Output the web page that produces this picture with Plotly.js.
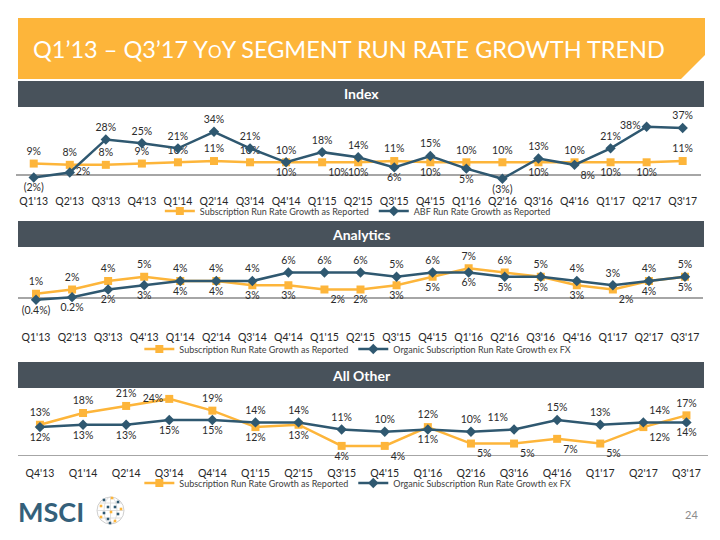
<!DOCTYPE html>
<html><head><meta charset="utf-8">
<script src="https://cdn.plot.ly/plotly-3.0.1.min.js"></script>
<style>html,body{margin:0;padding:0;background:#fff}#chart{width:720px;height:540px}</style>
</head><body><div id="chart"></div>
<script>
// ---------- DATA ----------
const quartersLong = ["Q1'13","Q2'13","Q3'13","Q4'13","Q1'14","Q2'14","Q3'14","Q4'14","Q1'15","Q2'15","Q3'15","Q4'15","Q1'16","Q2'16","Q3'16","Q4'16","Q1'17","Q2'17","Q3'17"];
const quartersShort = ["Q4'13","Q1'14","Q2'14","Q3'14","Q4'14","Q1'15","Q2'15","Q3'15","Q4'15","Q1'16","Q2'16","Q3'16","Q4'16","Q1'17","Q2'17","Q3'17"];

// Index
const indexSubscription = [9,8,8,9,10,11,10,10,10,10,11,10,10,10,10,10,10,10,11];
const indexABF = [-2,2,28,25,21,34,21,10,18,14,6,15,5,-3,13,8,21,38,37];
// Analytics
const analyticsSubscription = [1,2,4,5,4,4,3,3,2,2,3,5,7,6,5,3,2,4,5];
const analyticsOrganic = [-0.4,0.2,2,3,4,4,4,6,6,6,5,6,6,5,5,4,3,4,5];
// All Other
const otherSubscription = [13,18,21,24,19,12,13,4,4,12,5,5,7,5,12,17];
const otherOrganic = [12,13,13,15,15,14,14,11,10,11,10,11,15,13,14,14];

const seriesNames = {
  sub: "Subscription Run Rate Growth as Reported",
  abf: "ABF Run Rate Growth as Reported",
  org: "Organic Subscription Run Rate Growth ex FX"
};

// label placement (style only)
const T='top center', B='bottom center', R='middle right', L='middle left', BR='bottom right', TR='top right', TL='top left';
const idxSubPos = [T,T,T,T,T,T,T,T,BR,B,T,B,T,T,B,T,B,B,T];
const idxAbfPos = [B,R,T,T,T,T,T,B,T,T,B,T,B,B,T,BR,T,L,T];
const anaSubPos = [T,T,T,T,T,T,B,B,BR,B,B,B,T,T,T,B,BR,B,T];
const anaOrgPos = [B,B,B,B,B,B,T,T,T,T,T,T,B,B,B,T,T,T,B];
const aoSubPos = [T,T,T,L,T,B,B,B,BR,T,BR,BR,BR,BR,BR,T];
const aoOrgPos = [B,B,B,B,B,T,T,T,T,B,T,TL,T,T,TR,B];

// ---------- STYLE ----------
const W=720, H=540;
const ORANGE='#FDB53A', BLUE='#2F5870', BAR='#48525B';
const FONT='Lato, "Open Sans", sans-serif';
const px = x => x/W, py = y => 1 - y/H;
const fmt = v => v < 0 ? '(' + Math.abs(v) + '%)' : v + '%';

function series(x, y, pos, name, color, symbol, size, xa, ya, leg) {
  return {
    type:'scatter', mode:'lines+markers+text', x, y, name,
    text: y.map(fmt), textposition: pos, cliponaxis:false,
    textfont:{family:FONT, size:10.5, color:'#2b2b2b'},
    line:{color, width:2.5},
    marker:{color, symbol, size},
    xaxis:xa, yaxis:ya, legend:leg, hoverinfo:'skip'
  };
}

const traces = [
  series(quartersLong, indexSubscription, idxSubPos, seriesNames.sub, ORANGE, 'square', 8, 'x', 'y', 'legend'),
  series(quartersLong, indexABF, idxAbfPos, seriesNames.abf, BLUE, 'diamond', 8, 'x', 'y', 'legend'),
  series(quartersLong, analyticsSubscription, anaSubPos, seriesNames.sub, ORANGE, 'square', 8, 'x2', 'y2', 'legend2'),
  series(quartersLong, analyticsOrganic, anaOrgPos, seriesNames.org, BLUE, 'diamond', 8, 'x2', 'y2', 'legend2'),
  series(quartersShort, otherSubscription, aoSubPos, seriesNames.sub, ORANGE, 'square', 8, 'x3', 'y3', 'legend3'),
  series(quartersShort, otherOrganic, aoOrgPos, seriesNames.org, BLUE, 'diamond', 8, 'x3', 'y3', 'legend3')
];

function xAxis(cats, left, right, anchor) {
  return {domain:[px(left), px(right)], anchor, type:'category', categoryorder:'array', categoryarray:cats,
    range:[-0.5, cats.length-0.5], showgrid:false, zeroline:false, showline:false, ticks:'',
    tickfont:{family:FONT, size:10.5, color:'#262626'}, fixedrange:true};
}
function yAxis(top, bottom, zeroPx, pxPerUnit, anchor) {
  return {domain:[py(bottom), py(top)], anchor,
    range:[-(bottom-zeroPx)/pxPerUnit, (zeroPx-top)/pxPerUnit],
    showgrid:false, zeroline:true, zerolinecolor:'#A6A6A6', zerolinewidth:1.2,
    showticklabels:false, showline:false, ticks:'', fixedrange:true};
}
function legendAt(yPx) {
  return {orientation:'h', x:0.497, xanchor:'center', y:py(yPx), yanchor:'middle',
    font:{family:FONT, size:9, color:'#404040'}, bgcolor:'rgba(0,0,0,0)', itemwidth:30};
}

const P = (x,y) => px(x) + ',' + py(y);
const shapes = [
  {type:'path', xref:'paper', yref:'paper', path:'M'+P(18,18)+' L'+P(705,18)+' L'+P(705,55)+' L'+P(681,79)+' L'+P(18,79)+' Z',
   fillcolor:ORANGE, line:{width:0}},
  {type:'rect', xref:'paper', yref:'paper', x0:px(18), x1:px(704), y0:py(107), y1:py(81), fillcolor:BAR, line:{width:0}},
  {type:'rect', xref:'paper', yref:'paper', x0:px(18), x1:px(704), y0:py(247), y1:py(221), fillcolor:BAR, line:{width:0}},
  {type:'rect', xref:'paper', yref:'paper', x0:px(18), x1:px(704), y0:py(388), y1:py(362), fillcolor:BAR, line:{width:0}},
  // logo globe
  {type:'circle', xref:'paper', yref:'paper', x0:px(97), x1:px(124), y0:py(524), y1:py(497), line:{color:'#cfcfcf', width:1}},
  {type:'circle', xref:'paper', yref:'paper', x0:px(104), x1:px(117), y0:py(524), y1:py(497), line:{color:'#d8d8d8', width:0.8}},
  {type:'line', xref:'paper', yref:'paper', x0:px(97), x1:px(124), y0:py(510.5), y1:py(510.5), line:{color:'#d8d8d8', width:0.8}},
  {type:'line', xref:'paper', yref:'paper', x0:px(110.5), x1:px(110.5), y0:py(497), y1:py(524), line:{color:'#d8d8d8', width:0.8}},
  {type:'line', xref:'paper', yref:'paper', x0:px(99), x1:px(122), y0:py(503), y1:py(503), line:{color:'#d8d8d8', width:0.8}},
  {type:'line', xref:'paper', yref:'paper', x0:px(99), x1:px(122), y0:py(518), y1:py(518), line:{color:'#d8d8d8', width:0.8}}
];
const dots = [[104,500,BLUE],[112,498,ORANGE],[118,502,BLUE],[101,506,ORANGE],[108,507,BLUE],[115,507,BLUE],[121,509,ORANGE],[104,513,BLUE],[111,512,ORANGE],[118,514,BLUE],[101,517,ORANGE],[108,519,BLUE],[115,521,ORANGE],[110,523,BLUE]];
dots.forEach(d => shapes.push({type:'rect', xref:'paper', yref:'paper', x0:px(d[0]-1.3), x1:px(d[0]+1.3), y0:py(d[1]+1.3), y1:py(d[1]-1.3), fillcolor:d[2], line:{width:0}}));

const ann = (x, y, text, font, xanchor='center') => ({xref:'paper', yref:'paper', x:px(x), y:py(y), xanchor, yanchor:'middle', showarrow:false, text, font});
const annotations = [
  ann(31, 49, 'Q1’13 – Q3’17 Y<span style="font-size:17px">O</span>Y SEGMENT RUN RATE GROWTH TREND',
      {family:FONT, size:23.5, color:'#ffffff'}, 'left'),
  ann(361, 94, '<b>Index</b>', {family:FONT, size:14, color:'#ffffff'}),
  ann(361, 234, '<b>Analytics</b>', {family:FONT, size:14, color:'#ffffff'}),
  ann(361, 375, '<b>All Other</b>', {family:FONT, size:14, color:'#ffffff'}),
  ann(16, 511, '<b>MSCI</b>', {family:FONT, size:27, color:'#34607A'}, 'left'),
  ann(691, 514, '24', {family:FONT, size:11, color:'#8c8c8c'})
];

const layout = {
  width:W, height:H, margin:{l:0,r:0,t:0,b:0}, paper_bgcolor:'#ffffff', plot_bgcolor:'rgba(0,0,0,0)',
  showlegend:true,
  xaxis: xAxis(quartersLong, 15.7, 700.7, 'y'),
  yaxis: yAxis(114, 193, 175, 1.27, 'x'),
  xaxis2: xAxis(quartersLong, 18, 703, 'y2'),
  yaxis2: yAxis(252, 329, 298, 4.25, 'x2'),
  xaxis3: xAxis(quartersShort, 18.4, 708, 'y3'),
  yaxis3: yAxis(391, 465, 455.3, 2.35, 'x3'),
  legend: legendAt(211), legend2: legendAt(349), legend3: legendAt(483),
  shapes, annotations
};

Plotly.newPlot('chart', traces, layout, {staticPlot:true, displayModeBar:false});
</script>
</body></html>
